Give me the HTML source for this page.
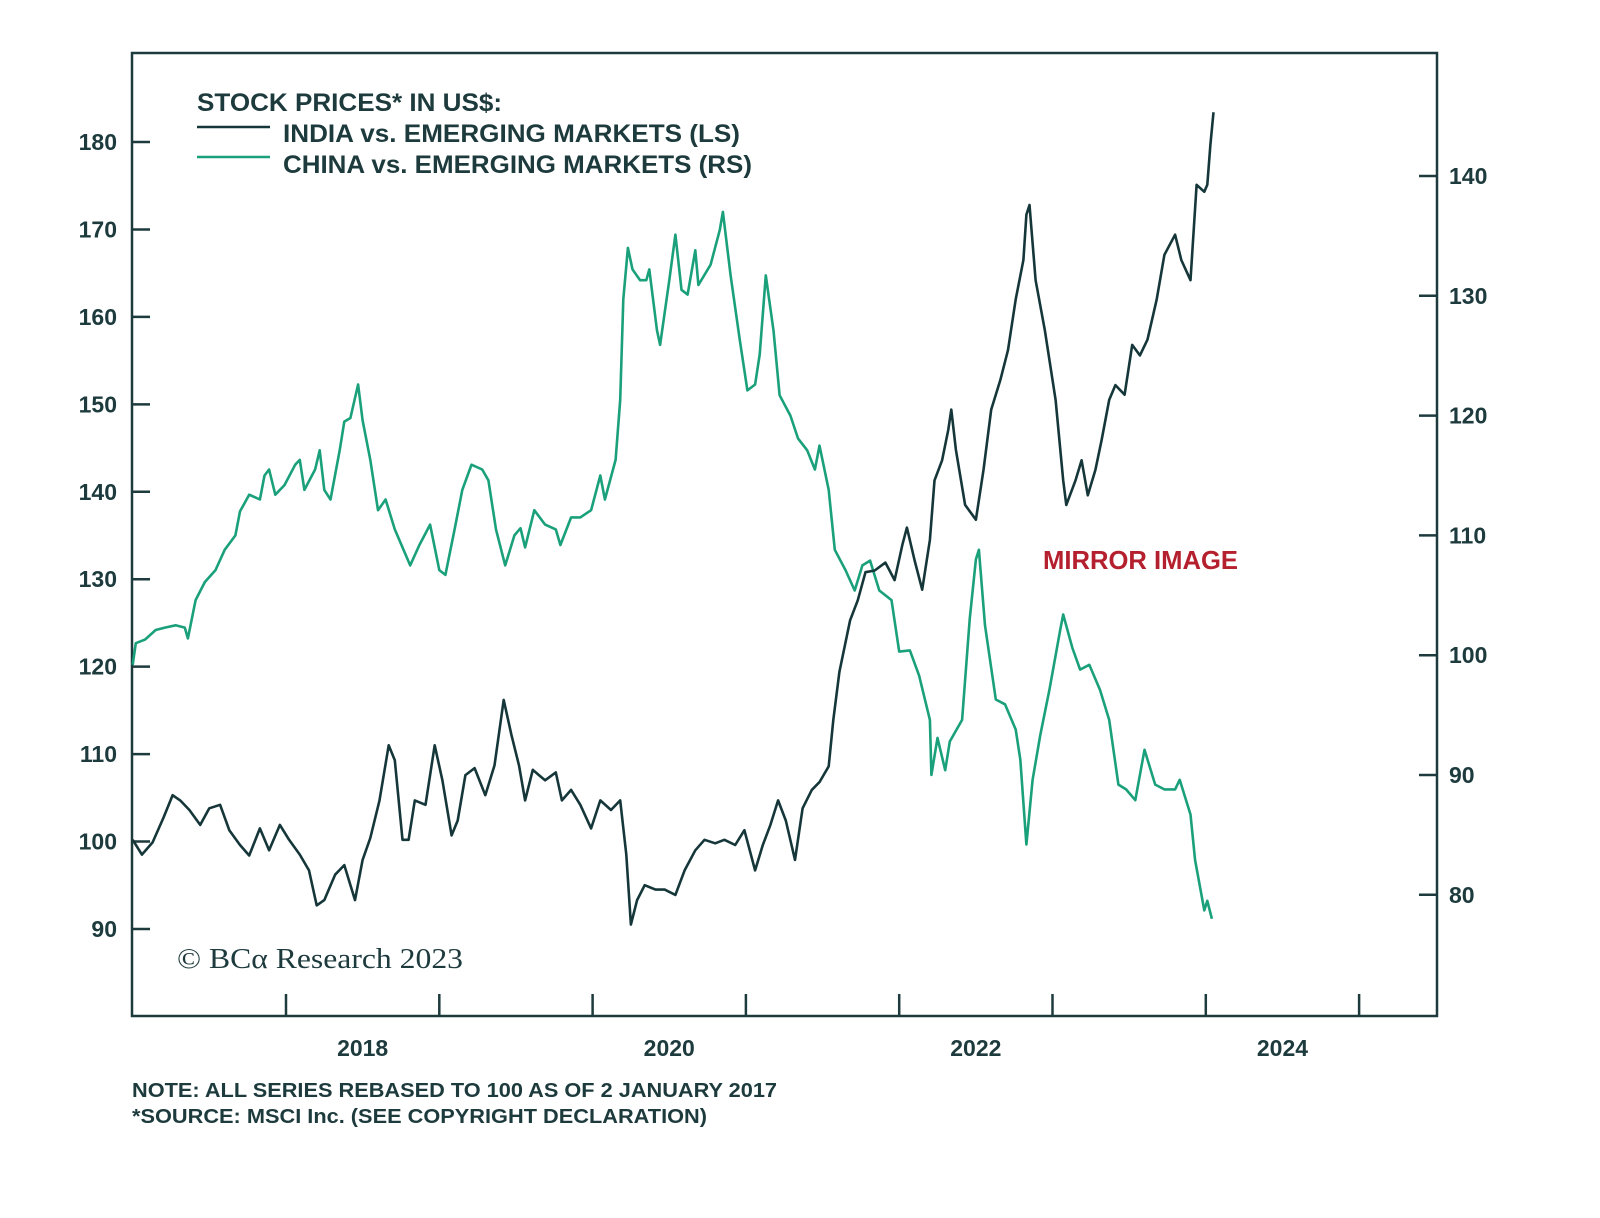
<!DOCTYPE html>
<html><head><meta charset="utf-8"><style>
html,body{margin:0;padding:0;background:#fff;}
svg{display:block;font-family:"Liberation Sans",sans-serif;}
</style></head><body>
<svg id="chart" width="1600" height="1218" viewBox="0 0 1600 1218" xmlns="http://www.w3.org/2000/svg">
<rect x="132" y="53" width="1305" height="963" fill="none" stroke="#1d3a3d" stroke-width="2.5"/>
<g id="axes"></g>
<g id="series"></g>
<g fill="#1d3a3d" font-weight="bold" font-size="25">
<text x="197" y="111" textLength="305" lengthAdjust="spacingAndGlyphs">STOCK PRICES* IN US$:</text>
<line x1="197" y1="127" x2="270" y2="127" stroke="#16373a" stroke-width="2.5"/>
<text x="283" y="142" textLength="457" lengthAdjust="spacingAndGlyphs">INDIA vs. EMERGING MARKETS (LS)</text>
<line x1="197" y1="157" x2="270" y2="157" stroke="#1aa07a" stroke-width="2.5"/>
<text x="283" y="173" textLength="469" lengthAdjust="spacingAndGlyphs">CHINA vs. EMERGING MARKETS (RS)</text>
</g>
<text x="1043" y="569" fill="#b5202e" font-weight="bold" font-size="26" textLength="195" lengthAdjust="spacingAndGlyphs">MIRROR IMAGE</text>
<text x="177" y="968" fill="#1d3a3d" font-family="'Liberation Serif',serif" font-size="28" textLength="286" lengthAdjust="spacingAndGlyphs">© BCα Research 2023</text>
<text x="132" y="1097" fill="#1d3a3d" font-weight="bold" font-size="20" textLength="645" lengthAdjust="spacingAndGlyphs">NOTE: ALL SERIES REBASED TO 100 AS OF 2 JANUARY 2017</text>
<text x="132" y="1123" fill="#1d3a3d" font-weight="bold" font-size="20" textLength="575" lengthAdjust="spacingAndGlyphs">*SOURCE: MSCI Inc. (SEE COPYRIGHT DECLARATION)</text>
</svg>
<script>
const indiaDates=[2017.00,2017.06,2017.13,2017.20,2017.26,2017.31,2017.37,2017.44,2017.50,2017.57,2017.63,2017.70,2017.76,2017.83,2017.89,2017.96,2018.02,2018.09,2018.15,2018.20,2018.25,2018.32,2018.38,2018.45,2018.50,2018.55,2018.61,2018.67,2018.71,2018.76,2018.80,2018.84,2018.91,2018.97,2019.02,2019.08,2019.12,2019.17,2019.23,2019.30,2019.36,2019.42,2019.47,2019.52,2019.56,2019.61,2019.65,2019.69,2019.76,2019.80,2019.86,2019.92,2019.99,2020.05,2020.12,2020.18,2020.22,2020.25,2020.29,2020.34,2020.41,2020.47,2020.54,2020.60,2020.67,2020.73,2020.80,2020.86,2020.93,2020.99,2021.06,2021.11,2021.16,2021.21,2021.26,2021.32,2021.37,2021.43,2021.48,2021.54,2021.57,2021.61,2021.68,2021.73,2021.78,2021.84,2021.91,2021.97,2022.02,2022.05,2022.10,2022.15,2022.20,2022.23,2022.28,2022.32,2022.34,2022.37,2022.43,2022.50,2022.55,2022.60,2022.66,2022.71,2022.76,2022.81,2022.83,2022.85,2022.89,2022.95,2023.02,2023.07,2023.09,2023.15,2023.19,2023.23,2023.28,2023.32,2023.37,2023.41,2023.47,2023.52,2023.57,2023.62,2023.68,2023.73,2023.80,2023.84,2023.90,2023.94,2023.99,2024.01,2024.03,2024.05];
const indiaValues=[100.2,98.5,99.9,102.7,105.3,104.7,103.6,101.9,103.8,104.2,101.3,99.6,98.4,101.5,99.0,101.9,100.2,98.5,96.7,92.7,93.3,96.2,97.3,93.3,97.9,100.4,104.7,111.0,109.3,100.2,100.2,104.7,104.2,111.0,107.0,100.7,102.4,107.6,108.4,105.3,108.7,116.2,112.2,108.7,104.7,108.2,107.6,107.0,107.9,104.7,105.9,104.2,101.5,104.7,103.6,104.7,98.5,90.5,93.3,95.0,94.5,94.5,93.9,96.7,99.0,100.2,99.8,100.2,99.6,101.3,96.7,99.6,101.9,104.7,102.4,97.9,103.8,105.9,106.8,108.6,113.9,119.4,125.3,127.6,130.8,131.0,131.9,129.9,133.9,135.9,132.2,128.8,134.5,141.3,143.6,147.1,149.4,144.8,138.5,136.8,142.5,149.4,152.8,156.2,162.0,166.5,171.7,172.8,164.2,158.5,150.5,141.3,138.5,141.3,143.6,139.6,142.5,145.9,150.5,152.2,151.1,156.8,155.6,157.4,162.0,167.1,169.4,166.5,164.2,175.1,174.3,175.1,179.7,183.4];
const chinaDates=[2017.00,2017.02,2017.08,2017.15,2017.21,2017.28,2017.34,2017.36,2017.41,2017.47,2017.54,2017.60,2017.67,2017.70,2017.76,2017.83,2017.86,2017.89,2017.93,2017.99,2018.06,2018.09,2018.12,2018.19,2018.22,2018.25,2018.29,2018.35,2018.38,2018.42,2018.47,2018.50,2018.55,2018.60,2018.65,2018.71,2018.78,2018.81,2018.87,2018.94,2019.00,2019.04,2019.10,2019.15,2019.21,2019.28,2019.32,2019.37,2019.43,2019.49,2019.53,2019.56,2019.62,2019.69,2019.76,2019.79,2019.86,2019.92,2019.99,2020.05,2020.08,2020.15,2020.18,2020.20,2020.23,2020.26,2020.31,2020.35,2020.37,2020.42,2020.44,2020.50,2020.54,2020.58,2020.62,2020.67,2020.69,2020.77,2020.83,2020.85,2020.90,2020.96,2021.01,2021.06,2021.09,2021.13,2021.18,2021.22,2021.29,2021.34,2021.40,2021.45,2021.48,2021.54,2021.58,2021.65,2021.71,2021.76,2021.81,2021.87,2021.95,2022.00,2022.07,2022.13,2022.20,2022.21,2022.25,2022.30,2022.33,2022.41,2022.46,2022.50,2022.52,2022.56,2022.63,2022.69,2022.76,2022.79,2022.83,2022.87,2022.92,2022.98,2023.05,2023.07,2023.13,2023.18,2023.24,2023.31,2023.37,2023.43,2023.48,2023.54,2023.60,2023.67,2023.73,2023.80,2023.83,2023.90,2023.93,2023.99,2024.01,2024.04];
const chinaValues=[99.2,101.0,101.3,102.1,102.3,102.5,102.3,101.4,104.6,106.1,107.1,108.8,110.0,112.0,113.4,113.0,115.0,115.5,113.4,114.2,115.9,116.3,113.8,115.5,117.1,113.8,113.0,117.1,119.5,119.8,122.6,119.6,116.3,112.1,113.0,110.5,108.4,107.5,109.2,110.9,107.1,106.7,110.5,113.8,115.9,115.5,114.6,110.5,107.5,110.0,110.6,109.0,112.1,110.9,110.5,109.2,111.5,111.5,112.1,115.0,113.0,116.3,121.3,129.7,134.0,132.2,131.3,131.3,132.2,127.1,125.9,131.3,135.1,130.5,130.1,133.8,130.9,132.6,135.5,137.0,131.7,126.3,122.1,122.6,125.1,131.7,127.1,121.7,120.0,118.1,117.1,115.5,117.5,113.8,108.8,107.1,105.4,107.5,107.9,105.4,104.6,100.3,100.4,98.3,94.6,90.0,93.1,90.4,92.8,94.6,103.0,108.0,108.8,102.5,96.3,95.9,93.8,91.3,84.2,89.6,93.3,97.1,102.1,103.4,100.6,98.8,99.2,97.1,94.6,89.2,88.8,87.9,92.1,89.2,88.8,88.8,89.6,86.7,82.9,78.7,79.5,78.0];
const leftTicks=[90,100,110,120,130,140,150,160,170,180];
const rightTicks=[80,90,100,110,120,130,140];
const yearTicks=[2018,2019,2020,2021,2022,2023,2024,2025];
const yearLabels=[2018,2020,2022,2024];

const NS="http://www.w3.org/2000/svg";
function xScale(t){return 132.7+(t-2017)*153.3;}
function yLeft(v){return 142+(180-v)*8.744;}
function yRight(v){return 176+(140-v)*11.98;}
function mk(tag,attrs,parent){const e=document.createElementNS(NS,tag);for(const k in attrs)e.setAttribute(k,attrs[k]);parent.appendChild(e);return e;}
const axes=document.getElementById('axes');
const ink="#1d3a3d";
leftTicks.forEach(v=>{
  const y=yLeft(v);
  const l=mk('line',{x1:132,y1:y,x2:150,y2:y,stroke:ink,'stroke-width':2.5},axes);
  
  
  const t=mk('text',{x:117,y:y+8,'text-anchor':'end','font-size':23,'font-weight':'bold',fill:ink},axes);
  
  
  t.textContent=v;
});
rightTicks.forEach(v=>{
  const y=yRight(v);
  const l=mk('line',{x1:1419,y1:y,x2:1437,y2:y,stroke:ink,'stroke-width':2.5},axes);
  
  
  const t=mk('text',{x:1449,y:y+8,'font-size':23,'font-weight':'bold',fill:ink},axes);
  
  
  t.textContent=v;
});
yearTicks.forEach(yr=>{
  const x=xScale(yr);
  const l=mk('line',{x1:x,y1:1016,x2:x,y2:994,stroke:ink,'stroke-width':2.5},axes);
  
  
});
yearLabels.forEach(yr=>{
  const t=mk('text',{x:xScale(yr+0.5),y:1056,'text-anchor':'middle','font-size':23,'font-weight':'bold',fill:ink},axes);
  
  
  t.textContent=yr;
});
const series=document.getElementById('series');
function pathFor(dates,vals,ys){return dates.map((d,i)=>(i?'L':'M')+xScale(d).toFixed(1)+' '+ys(vals[i]).toFixed(1)).join(' ');}
const pc=mk('path',{d:pathFor(chinaDates,chinaValues,yRight),fill:'none',stroke:'#1aa07a','stroke-width':2.6,'stroke-linejoin':'round'},series);


const pi=mk('path',{d:pathFor(indiaDates,indiaValues,yLeft),fill:'none',stroke:'#16373a','stroke-width':2.6,'stroke-linejoin':'round'},series);


</script>
</body></html>
